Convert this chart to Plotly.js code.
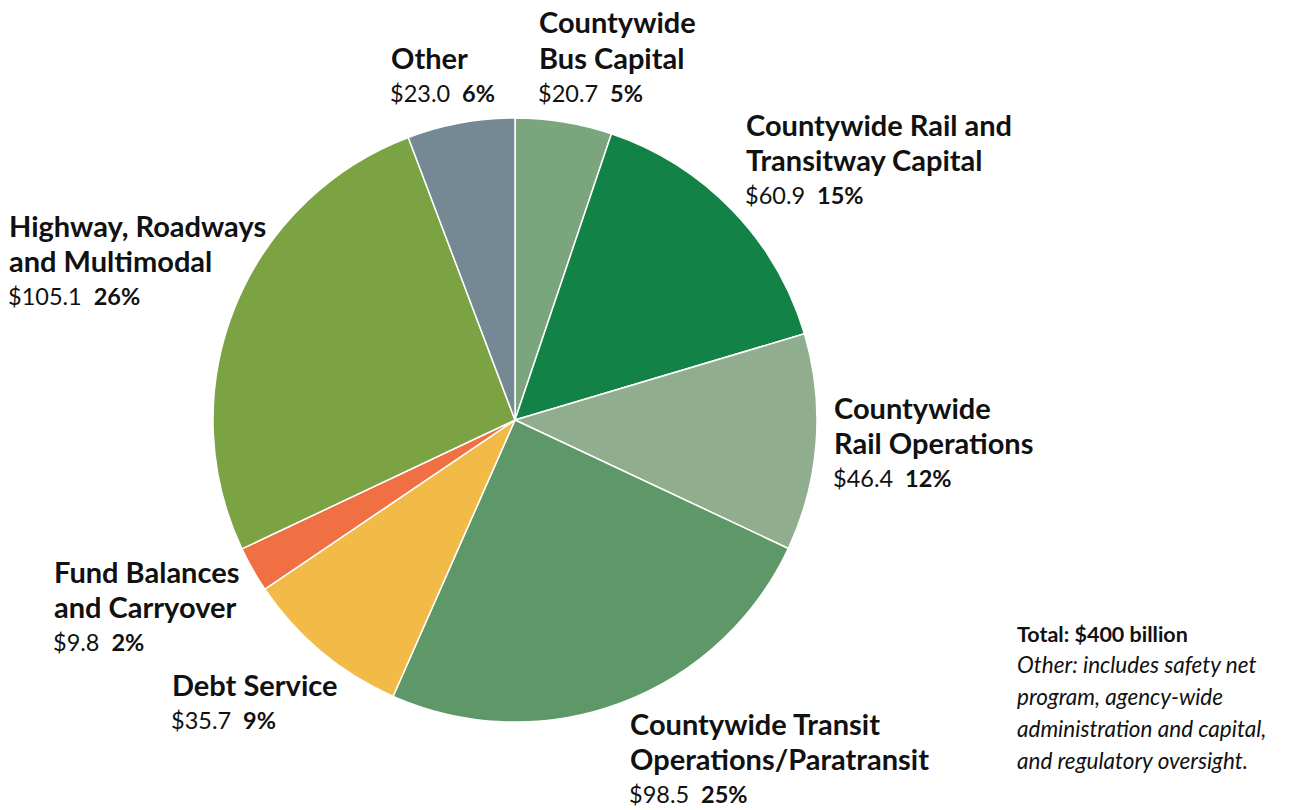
<!DOCTYPE html>
<html>
<head>
<meta charset="utf-8">
<script src="https://cdn.plot.ly/plotly-3.0.1.min.js"></script>
<style>
  html, body { margin: 0; padding: 0; background: #fff; }
  #chart { width: 1293px; height: 810px; }
</style>
</head>
<body>
<div id="chart"></div>
<script>
// Program categories (clockwise from 12 o'clock), $ billions
const categories = [
  "Countywide Bus Capital",
  "Countywide Rail and Transitway Capital",
  "Countywide Rail Operations",
  "Countywide Transit Operations/Paratransit",
  "Debt Service",
  "Fund Balances and Carryover",
  "Highway, Roadways and Multimodal",
  "Other"
];
const values = [20.7, 60.9, 46.4, 98.5, 35.7, 9.8, 105.1, 23.0];
const titleLines = [
  ["Countywide", "Bus Capital"],
  ["Countywide Rail and", "Transitway Capital"],
  ["Countywide", "Rail Operations"],
  ["Countywide Transit", "Operations/Paratransit"],
  ["Debt Service"],
  ["Fund Balances", "and Carryover"],
  ["Highway, Roadways", "and Multimodal"],
  ["Other"]
];
const colors = ["#7ba67d", "#138246", "#90ae8e", "#5e9868", "#f2bb48", "#f06f43", "#7ba243", "#758994"];
const totalNote = ["Other: includes safety net", "program, agency-wide", "administration and capital,", "and regulatory oversight."];

const W = 1293, H = 810;
const FONT = "Lato, 'Open Sans', sans-serif";
const total = values.reduce((a, b) => a + b, 0);

// label block anchors: left x and center y of the first title line (px)
const labelPos = [
  [540, 22], [747, 124], [835, 407], [631, 723],
  [173, 684], [55, 571], [10, 225], [392, 57]
];
const LINE = 35;

const px = x => x / W;
const py = y => 1 - y / H;

const annotations = [];
const addText = (x, y, text, size) => annotations.push({
  xref: "paper", yref: "paper", x: px(x), y: py(y),
  xanchor: "left", yanchor: "middle", showarrow: false,
  borderpad: 0, text: text,
  font: { family: FONT, size: size, color: "#111" }
});

categories.forEach((c, i) => {
  const [lx, ly] = labelPos[i];
  const lines = titleLines[i];
  lines.forEach((t, k) => addText(lx - 2, ly + k * LINE, "<b>" + t + "</b>", 29));
  const pct = Math.round(values[i] / total * 100);
  addText(lx - 3, ly + lines.length * LINE + 1,
    "$" + values[i].toFixed(1) + "  <b>" + pct + "%</b>", 23.5);
});

addText(1016, 634, "<b>Total: $" + Math.round(total) + " billion</b>", 21.5);
totalNote.forEach((t, k) => addText(1016, 664 + k * 32, "<i>" + t + "</i>", 22.5));

const cx = 515, cy = 420, r = 302;
const trace = {
  type: "pie",
  labels: categories,
  values: values,
  sort: false,
  direction: "clockwise",
  rotation: 0,
  textinfo: "none",
  hoverinfo: "label+value+percent",
  marker: { colors: colors, line: { color: "#ffffff", width: 1.5 } },
  domain: { x: [px(cx - r), px(cx + r)], y: [py(cy + r), py(cy - r)] },
  showlegend: false
};

const layout = {
  width: W, height: H,
  margin: { l: 0, r: 0, t: 0, b: 0 },
  paper_bgcolor: "#ffffff",
  showlegend: false,
  annotations: annotations
};

Plotly.newPlot("chart", [trace], layout, { displayModeBar: false, staticPlot: true });
</script>
</body>
</html>
